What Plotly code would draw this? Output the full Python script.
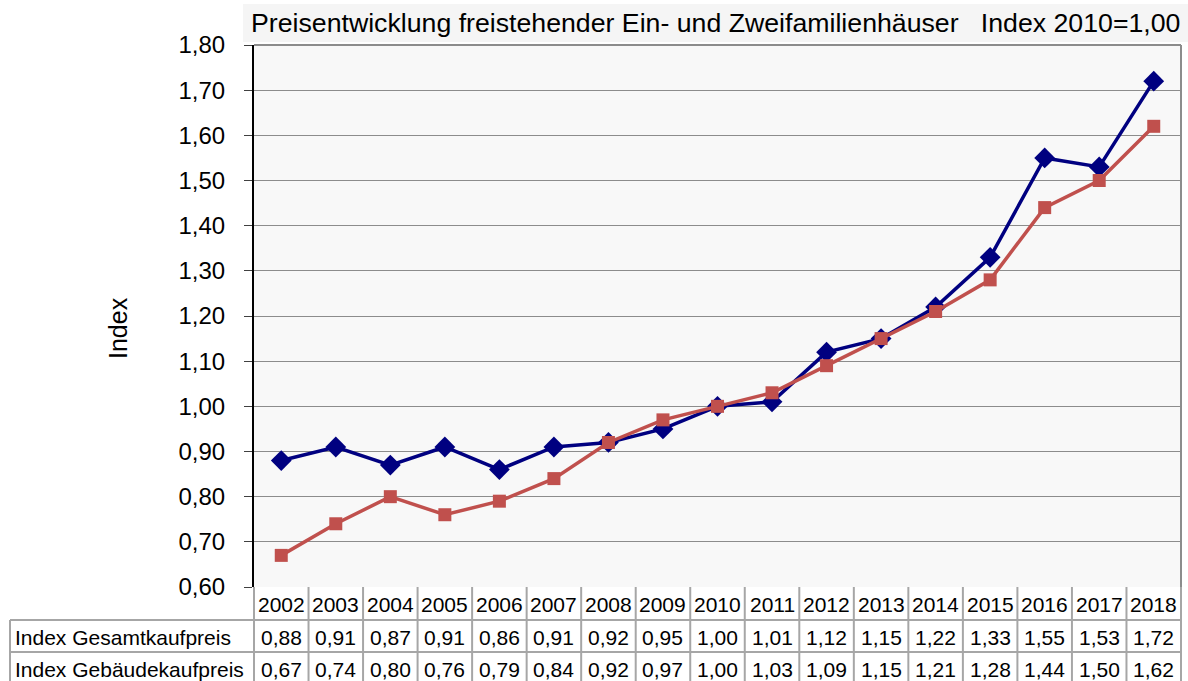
import plotly.graph_objects as go

# Price index data, 2010 = 1.00
years = ["2002", "2003", "2004", "2005", "2006", "2007", "2008", "2009", "2010",
         "2011", "2012", "2013", "2014", "2015", "2016", "2017", "2018"]
gesamt = [0.88, 0.91, 0.87, 0.91, 0.86, 0.91, 0.92, 0.95, 1.00,
          1.01, 1.12, 1.15, 1.22, 1.33, 1.55, 1.53, 1.72]
gebaeude = [0.67, 0.74, 0.80, 0.76, 0.79, 0.84, 0.92, 0.97, 1.00,
            1.03, 1.09, 1.15, 1.21, 1.28, 1.44, 1.50, 1.62]
series_names = ["Index Gesamtkaufpreis", "Index Gebäudekaufpreis"]
y_ticks = [0.60, 0.70, 0.80, 0.90, 1.00, 1.10, 1.20, 1.30, 1.40, 1.50, 1.60, 1.70, 1.80]

W, H = 1188, 681
L, R, T, B = 254, 7, 45, 94
plot_w = W - L - R
plot_h = H - T - B

FONT = "Liberation Sans, Arial, sans-serif"
BLUE = "#000080"
RED = "#C0504D"
GRID = "#8c8c8c"
TABLE_LINE = "#a6a6a6"

n = len(years)
xs = list(range(n))


def px_to_py(py):
    """pixel row -> paper y"""
    return (H - B - py) / plot_h


def px_to_px(px):
    """pixel column -> paper x"""
    return (px - L) / plot_w


fig = go.Figure()
fig.add_trace(go.Scatter(
    x=xs, y=gesamt, name=series_names[0], mode="lines+markers",
    line=dict(color=BLUE, width=3.5),
    marker=dict(symbol="diamond", size=16, color=BLUE),
    cliponaxis=False,
))
fig.add_trace(go.Scatter(
    x=xs, y=gebaeude, name=series_names[1], mode="lines+markers",
    line=dict(color=RED, width=3.5),
    marker=dict(symbol="square", size=13, color=RED),
    cliponaxis=False,
))

shapes = []
annotations = []

# Title box above the plot area
shapes.append(dict(type="rect", xref="paper", yref="paper",
                   x0=px_to_px(243), x1=px_to_px(W), y0=px_to_py(42), y1=px_to_py(4),
                   fillcolor="#f5f5f5", line=dict(width=0), layer="below"))
annotations.append(dict(
    xref="paper", yref="paper", x=px_to_px(249), y=px_to_py(23),
    xanchor="left", yanchor="middle", showarrow=False,
    text="Preisentwicklung freistehender Ein- und Zweifamilienhäuser\u00a0\u00a0\u00a0Index 2010=1,00",
    font=dict(family=FONT, size=26.7, color="#000000"),
))

# Plot frame (top / right)
shapes.append(dict(type="line", xref="paper", yref="paper", x0=0, x1=1, y0=1, y1=1,
                   line=dict(color=GRID, width=2)))
shapes.append(dict(type="line", xref="paper", yref="paper", x0=1, x1=1, y0=0, y1=1,
                   line=dict(color=GRID, width=2)))

# Y axis title
annotations.append(dict(
    xref="paper", yref="paper", x=px_to_px(118), y=px_to_py(328),
    xanchor="center", yanchor="middle", textangle=-90, showarrow=False,
    text="Index", font=dict(family=FONT, size=25, color="#000000"),
))

# Data table below the plot
row_edges = [H - B, 620, 652, 684]
label_left = 10
col_w = 1.0 / n

# horizontal lines
shapes.append(dict(type="line", xref="paper", yref="paper", x0=0, x1=1,
                   y0=px_to_py(row_edges[1]), y1=px_to_py(row_edges[1]),
                   line=dict(color=TABLE_LINE, width=2)))
for e in row_edges[1:]:
    shapes.append(dict(type="line", xref="paper", yref="paper",
                       x0=px_to_px(label_left), x1=1,
                       y0=px_to_py(e), y1=px_to_py(e),
                       line=dict(color=TABLE_LINE, width=2)))
# vertical lines
for i in range(n + 1):
    shapes.append(dict(type="line", xref="paper", yref="paper",
                       x0=i * col_w, x1=i * col_w,
                       y0=px_to_py(row_edges[0]), y1=px_to_py(row_edges[-1]),
                       line=dict(color=TABLE_LINE, width=2)))
shapes.append(dict(type="line", xref="paper", yref="paper",
                   x0=px_to_px(label_left), x1=px_to_px(label_left),
                   y0=px_to_py(row_edges[1]), y1=px_to_py(row_edges[-1]),
                   line=dict(color=TABLE_LINE, width=2)))

TFONT = dict(family=FONT, size=21, color="#000000")
rows = [years,
        [f"{v:.2f}".replace(".", ",") for v in gesamt],
        [f"{v:.2f}".replace(".", ",") for v in gebaeude]]
for r, vals in enumerate(rows):
    yc = px_to_py((row_edges[r] + row_edges[r + 1]) / 2 + 1)
    for i, t in enumerate(vals):
        annotations.append(dict(xref="x", yref="paper", x=xs[i], y=yc,
                                xanchor="center", yanchor="middle", showarrow=False,
                                text=t, font=TFONT))
for r, name in enumerate(series_names, start=1):
    yc = px_to_py((row_edges[r] + row_edges[r + 1]) / 2 + 1)
    annotations.append(dict(xref="paper", yref="paper", x=px_to_px(label_left + 3), y=yc,
                            xanchor="left", yanchor="middle", showarrow=False,
                            text=name, font=TFONT))

fig.update_layout(
    width=W, height=H,
    margin=dict(l=L, r=R, t=T, b=B, pad=0),
    paper_bgcolor="#ffffff",
    plot_bgcolor="#f8f8f8",
    showlegend=False,
    separators=",.",
    font=dict(family=FONT, color="#000000"),
    shapes=shapes,
    annotations=annotations,
    xaxis=dict(range=[-0.5, n - 0.5], showticklabels=False, showgrid=False,
               zeroline=False, showline=False, ticks=""),
    yaxis=dict(range=[0.60, 1.80], tickvals=y_ticks, tickformat=".2f",
               showgrid=True, gridcolor=GRID, gridwidth=1, zeroline=False,
               showline=True, linecolor="#000000", linewidth=2,
               ticks="outside", ticklen=8, tickcolor="#404040", tickwidth=1,
               ticklabelstandoff=14,
               tickfont=dict(family=FONT, size=24, color="#000000")),
)

fig.write_html("out.html")
